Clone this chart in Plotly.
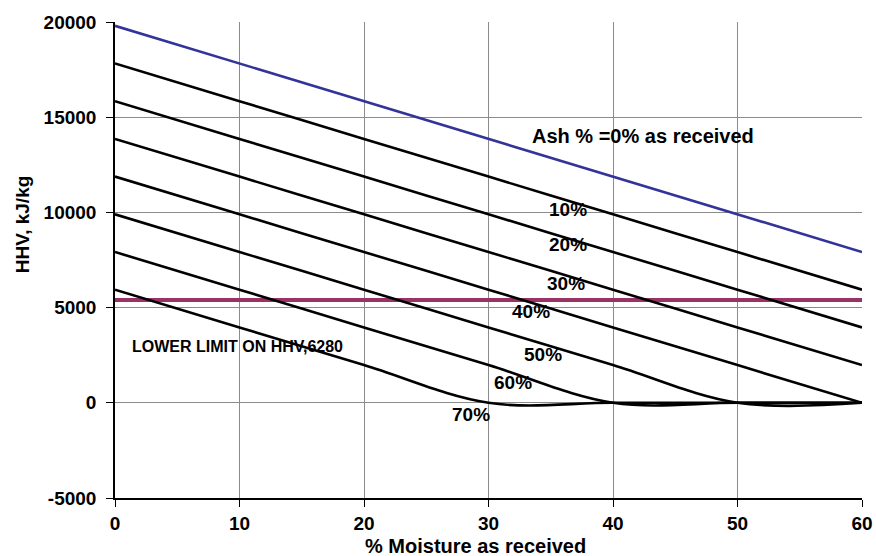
import plotly.graph_objects as go

moisture = [0, 10, 20, 30, 40, 50, 60]
ash_0 = [19800, 17820, 15840, 13860, 11880, 9900, 7920]
ash_10 = [17820, 15840, 13860, 11880, 9900, 7920, 5940]
ash_20 = [15840, 13860, 11880, 9900, 7920, 5940, 3960]
ash_30 = [13860, 11880, 9900, 7920, 5940, 3960, 1980]
ash_40 = [11880, 9900, 7920, 5940, 3960, 1980, 0]
ash_50 = [9900, 7920, 5940, 3960, 1980, 0, 0]
ash_60 = [7920, 5940, 3960, 1980, 0, 0, 0]
ash_70 = [5940, 3960, 1980, 0, 0, 0, 0]
limit_x = [0, 60]
limit_y = [5400, 5400]
x_ticks = [0, 10, 20, 30, 40, 50, 60]
y_ticks = [-5000, 0, 5000, 10000, 15000, 20000]
y_tick_text = ["-5000", "0", "5000", "10000", "15000", "20000"]

FONT = "Liberation Sans, Arial, sans-serif"

fig = go.Figure()
fig.add_trace(go.Scatter(x=limit_x, y=limit_y, mode="lines",
                         line=dict(color="#993366", width=4), showlegend=False))
for ys in [ash_10, ash_20, ash_30, ash_40, ash_50, ash_60, ash_70]:
    fig.add_trace(go.Scatter(x=moisture, y=ys, mode="lines",
                             line=dict(color="black", width=2.6, shape="spline", smoothing=1),
                             showlegend=False))
fig.add_trace(go.Scatter(x=moisture, y=ash_0, mode="lines",
                         line=dict(color="#333399", width=2.6), showlegend=False))

labels = [
    ("Ash % =0% as received", 42.4, 14000, 20),
    ("10%", 36.4, 10160, 19),
    ("20%", 36.4, 8320, 19),
    ("30%", 36.2, 6280, 19),
    ("40%", 33.4, 4800, 19),
    ("50%", 34.4, 2550, 19),
    ("60%", 32.0, 1080, 19),
    ("70%", 28.6, -600, 19),
    ("LOWER LIMIT ON HHV,6280", 9.84, 2970, 16),
]
for text, x, y, size in labels:
    fig.add_annotation(x=x, y=y, text="<b>%s</b>" % text, showarrow=False,
                       font=dict(family=FONT, size=size, color="black"))

# axis titles
fig.add_annotation(xref="paper", yref="paper", x=0.483, y=-0.101, yanchor="middle",
                   text="<b>% Moisture as received</b>", showarrow=False,
                   font=dict(family=FONT, size=20, color="black"))
fig.add_annotation(xref="paper", yref="paper", x=-0.124, y=0.576, xanchor="center",
                   yanchor="middle", textangle=-90,
                   text="<b>HHV, kJ/kg</b>", showarrow=False,
                   font=dict(family=FONT, size=19, color="black"))

fig.update_layout(
    width=876, height=556,
    margin=dict(l=115, r=14, t=22, b=58),
    paper_bgcolor="white", plot_bgcolor="white",
    font=dict(family=FONT, color="black"),
)
fig.update_xaxes(
    range=[0, 60], tickvals=x_ticks, automargin=False,
    showgrid=True, gridcolor="#8c8c8c", gridwidth=1,
    showline=True, linecolor="black", linewidth=1.5,
    ticks="outside", ticklen=7, tickcolor="black",
    zeroline=False,
    tickfont=dict(family=FONT, size=19, color="black", weight="bold"),
)
fig.update_yaxes(
    range=[-5000, 20000], tickvals=y_ticks, ticktext=y_tick_text, automargin=False,
    showgrid=True, gridcolor="#8c8c8c", gridwidth=1,
    showline=True, linecolor="black", linewidth=1.5,
    ticks="outside", ticklen=7, tickcolor="black", ticklabelstandoff=6,
    zeroline=False,
    tickfont=dict(family=FONT, size=19, color="black", weight="bold"),
)
fig.write_html("out.html")
